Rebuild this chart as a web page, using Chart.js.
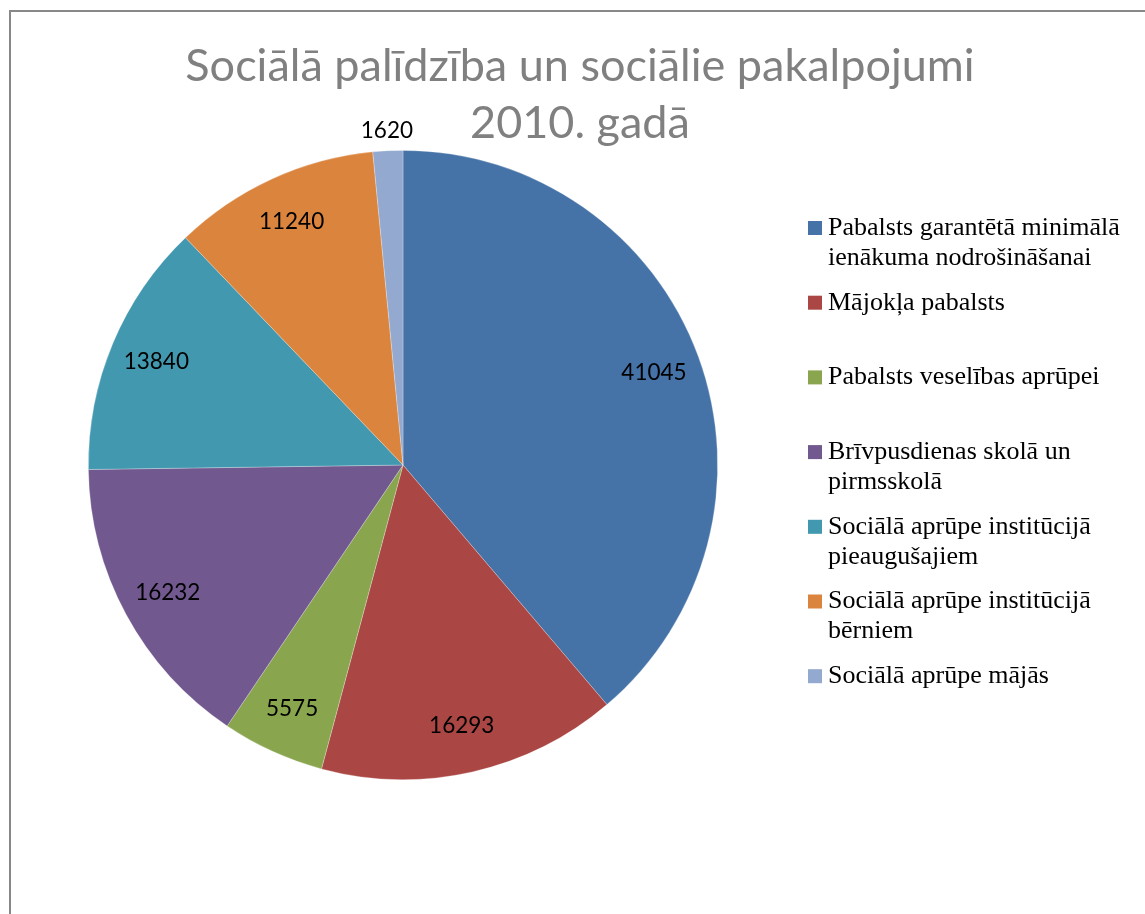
<!DOCTYPE html>
<html>
<head>
<meta charset="utf-8">
<script src="https://cdn.jsdelivr.net/npm/chart.js@4.4.1/dist/chart.umd.min.js"></script>
<style>
  html, body { margin: 0; padding: 0; background: #fff; overflow: hidden; }
  #frame { position: absolute; left: 9px; top: 10px; width: 1300px; height: 1100px;
           border: 2px solid #888; box-sizing: border-box; }
  #wrap { position: absolute; left: 0; top: 0; width: 1145px; height: 914px; }
</style>
</head>
<body>
<div id="frame"></div>
<div id="wrap"><canvas id="c" width="1145" height="914"></canvas></div>
<script>
// Sociālā palīdzība 2010 — pie with Excel-style labels and a wrapped legend on the right.

const titleLines = ['Sociālā palīdzība un sociālie pakalpojumi', '2010. gadā'];

const categories = [
  ['Pabalsts garantētā minimālā', 'ienākuma nodrošināšanai'],
  ['Mājokļa pabalsts'],
  ['Pabalsts veselības aprūpei'],
  ['Brīvpusdienas skolā un', 'pirmsskolā'],
  ['Sociālā aprūpe institūcijā', 'pieaugušajiem'],
  ['Sociālā aprūpe institūcijā', 'bērniem'],
  ['Sociālā aprūpe mājās'],
];

const values = [41045, 16293, 5575, 16232, 13840, 11240, 1620];

const colours = ['#4572A7', '#AA4643', '#89A54E', '#71588F', '#4198AF', '#DB843D', '#93A9CF'];

// title, value labels and legend are painted by hand so they can sit where Excel put them
const decor = {
  id: 'decor',
  afterDatasetsDraw(chart) {
    const ctx = chart.ctx;
    const meta = chart.getDatasetMeta(0);
    ctx.save();

    // title
    ctx.fillStyle = '#808080';
    ctx.font = '45px Lato, "Open Sans", sans-serif';
    ctx.textAlign = 'center';
    ctx.textBaseline = 'middle';
    ctx.fillText(titleLines[0], 580, 66);
    ctx.fillText(titleLines[1], 580, 123);

    // value labels
    ctx.fillStyle = '#000';
    ctx.font = '22.5px Lato, "Open Sans", sans-serif';
    meta.data.forEach((arc, i) => {
      const p = arc.getProps(['x', 'y', 'startAngle', 'endAngle', 'outerRadius'], true);
      const mid = (p.startAngle + p.endAngle) / 2;
      const span = p.endAngle - p.startAngle;
      const r = span < 0.2 ? p.outerRadius + 20 : p.outerRadius * 0.85;
      ctx.fillText(String(values[i]), p.x + Math.cos(mid) * r, p.y + Math.sin(mid) * r);
    });

    // legend
    ctx.textAlign = 'left';
    ctx.font = '26px "Liberation Serif", "Times New Roman", serif';
    const startY = 228, step = 74.7, lineH = 30;
    categories.forEach((lines, i) => {
      const y = startY + i * step;
      ctx.fillStyle = colours[i];
      ctx.fillRect(808, y - 7, 14, 14);
      ctx.fillStyle = '#000';
      lines.forEach((t, j) => ctx.fillText(t, 828, y + j * lineH));
    });

    ctx.restore();
  }
};

new Chart(document.getElementById('c'), {
  type: 'pie',
  data: {
    labels: categories.map(l => l.join(' ')),
    datasets: [{
      data: values,
      backgroundColor: colours,
      borderColor: 'rgba(255,255,255,0.35)',
      borderWidth: 0.75,
    }],
  },
  options: {
    responsive: false,
    animation: false,
    events: [],
    layout: { padding: { left: 88, right: 427, top: 150, bottom: 134 } },
    plugins: {
      legend: { display: false },
      title: { display: false },
      tooltip: { enabled: false },
    },
  },
  plugins: [decor],
});
</script>
</body>
</html>
